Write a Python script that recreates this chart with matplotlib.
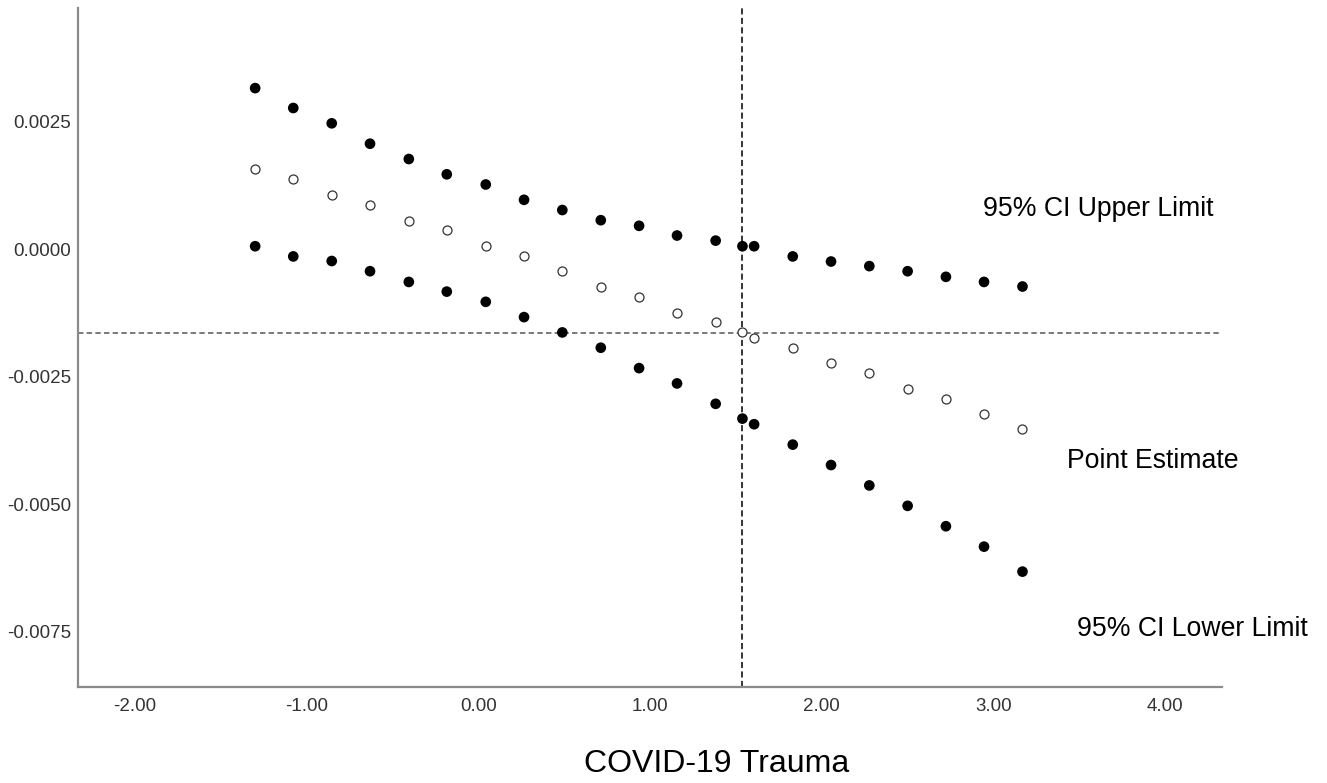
import numpy as np
import matplotlib.pyplot as plt

plt.rcParams["font.family"] = ["Liberation Sans", "DejaVu Sans"]

# moderator values (regular grid plus the Johnson-Neyman point at 1.538)
trauma = [-1.300, -1.078, -0.854, -0.631, -0.405, -0.184, 0.043, 0.266, 0.489, 0.713,
          0.936, 1.157, 1.382, 1.538, 1.606, 1.831, 2.054, 2.277, 2.500, 2.723, 2.945, 3.169]
upper = [0.00316, 0.00277, 0.00247, 0.00207, 0.00177, 0.00147, 0.00127, 0.00097, 0.00077, 0.00057,
         0.00046, 0.00027, 0.00017, 0.00006, 0.00006, -0.00014, -0.00024, -0.00033, -0.00043, -0.00054,
         -0.00064, -0.00073]
estimate = [0.00157, 0.00137, 0.00107, 0.00087, 0.00056, 0.00037, 0.00007, -0.00013, -0.00043, -0.00073,
            -0.00093, -0.00124, -0.00143, -0.00163, -0.00173, -0.00193, -0.00223, -0.00243, -0.00273, -0.00293,
            -0.00323, -0.00353]
lower = [0.00006, -0.00014, -0.00023, -0.00043, -0.00064, -0.00083, -0.00103, -0.00133, -0.00163, -0.00193,
         -0.00233, -0.00263, -0.00303, -0.00332, -0.00343, -0.00383, -0.00423, -0.00463, -0.00503, -0.00543,
         -0.00583, -0.00632]
jn_x = 1.538
ref_y = -0.001635
xticks = [-2, -1, 0, 1, 2, 3, 4]
yticks = [0.0025, 0.0, -0.0025, -0.0050, -0.0075]

W, H = 1327, 783
fig = plt.figure(figsize=(W/100, H/100), dpi=100, facecolor="white")
ax = fig.add_axes([78.3/W, 1-687.3/H, (1222-78.3)/W, (687.3-8.3)/H])

ax.axvline(jn_x, color="black", linewidth=1.1, linestyle=(0, (4, 2.2)), zorder=1)
ax.axhline(ref_y, color="#707070", linewidth=1.3, linestyle=(0, (3, 1.8)), zorder=1)

ax.scatter(trauma, upper, s=59, color="black", edgecolors="none", zorder=3)
ax.scatter(trauma, lower, s=59, color="black", edgecolors="none", zorder=3)
ax.scatter(trauma, estimate, s=42, facecolors="white", edgecolors="#333333", linewidths=0.9, zorder=3)

ax.set_xlim(-2.33, 4.331)
ax.set_ylim(-0.008588, 0.004725)
ax.set_xticks(xticks)
ax.set_xticklabels([f"{v:.2f}" for v in xticks])
ax.set_yticks(yticks)
ax.set_yticklabels([f"{v:.4f}" for v in yticks])
ax.tick_params(axis="both", length=0, labelsize=13.5, labelcolor="#333333")
ax.tick_params(axis="x", pad=8)
ax.tick_params(axis="y", pad=5)
for side in ["top", "right"]:
    ax.spines[side].set_visible(False)
for side in ["left", "bottom"]:
    ax.spines[side].set_color("#8a8a8a")
    ax.spines[side].set_linewidth(1.6)

fig.text(983/W, 1-209.5/H, "95% CI Upper Limit", fontsize=19.2, ha="left", va="center")
fig.text(1067/W, 1-461/H, "Point Estimate", fontsize=19.2, ha="left", va="center")
fig.text(1077/W, 1-629.5/H, "95% CI Lower Limit", fontsize=19.2, ha="left", va="center")
fig.text(717/W, 1-764/H, "COVID-19 Trauma", fontsize=23, ha="center", va="center")

fig.savefig("out.png", dpi=100, facecolor="white")
